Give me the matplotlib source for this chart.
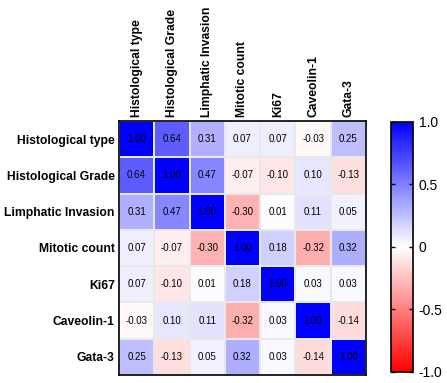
import numpy as np
import matplotlib.pyplot as plt
from matplotlib.colors import LinearSegmentedColormap

plt.rcParams['font.family'] = ['Liberation Sans', 'DejaVu Sans']

labels = ["Histological type", "Histological Grade", "Limphatic Invasion",
          "Mitotic count", "Ki67", "Caveolin-1", "Gata-3"]

corr = np.array([
    [1.00, 0.64, 0.31, 0.07, 0.07, -0.03, 0.25],
    [0.64, 1.00, 0.47, -0.07, -0.10, 0.10, -0.13],
    [0.31, 0.47, 1.00, -0.30, 0.01, 0.11, 0.05],
    [0.07, -0.07, -0.30, 1.00, 0.18, -0.32, 0.32],
    [0.07, -0.10, 0.01, 0.18, 1.00, 0.03, 0.03],
    [-0.03, 0.10, 0.11, -0.32, 0.03, 1.00, -0.14],
    [0.25, -0.13, 0.05, 0.32, 0.03, -0.14, 1.00],
])

cmap = LinearSegmentedColormap.from_list("rwb", ["#ff0000", "#ffffff", "#0000ff"])

fig = plt.figure(figsize=(4.47, 3.83), dpi=100)
ax = fig.add_axes([0.266, 0.021, 0.553, 0.663])
n = len(labels)
mesh = ax.pcolormesh(np.arange(n + 1), np.arange(n + 1), corr, cmap=cmap,
                     vmin=-1, vmax=1, edgecolor="#e8e8e8", linewidth=1.2)
ax.set_xlim(0, n)
ax.set_ylim(n, 0)
ax.xaxis.tick_top()
ax.set_xticks(np.arange(n) + 0.5)
ax.set_xticklabels(labels, rotation=90, fontsize=8.7, fontweight="bold")
ax.set_yticks(np.arange(n) + 0.5)
ax.set_yticklabels(labels, fontsize=8.7, fontweight="bold")
ax.tick_params(length=0, pad=3)
for s in ax.spines.values():
    s.set_linewidth(1.2)

for i in range(n):
    for j in range(n):
        ax.text(j + 0.5, i + 0.5, f"{corr[i, j]:.2f}", ha="center", va="center",
                fontsize=7, color="black")

cax = fig.add_axes([0.875, 0.029, 0.049, 0.653])
cb = fig.colorbar(mesh, cax=cax, ticks=[-1, -0.5, 0, 0.5, 1])
cb.ax.set_yticklabels(["-1.0", "-0.5", "0", "0.5", "1.0"])
cb.ax.tick_params(labelsize=10, length=3, width=1, direction="in",
                  left=True, right=True, pad=4)
cb.outline.set_linewidth(1.2)

fig.savefig("out.png", dpi=100)
